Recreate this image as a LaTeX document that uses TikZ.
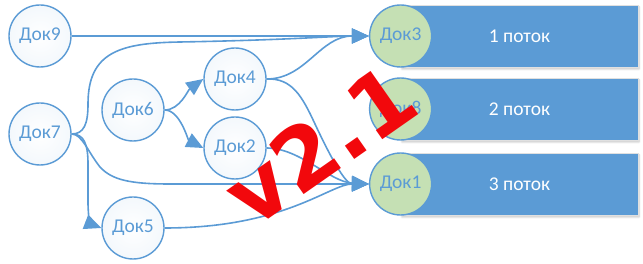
\documentclass[tikz,border=0pt]{standalone}
\usepackage{fontspec}
\setmainfont{Carlito}
\newfontfamily\stampfont{DejaVu Sans}
\usetikzlibrary{arrows.meta,shadows.blur}
\definecolor{flow}{HTML}{5B9BD5}
\definecolor{donegreen}{HTML}{C5E0B4}
\definecolor{stamp}{HTML}{F2080C}

\begin{document}
\begin{tikzpicture}[
    x=1pt, y=1pt,
    font=\fontsize{19.5}{22}\selectfont,
    doc/.style={circle, draw=flow, line width=1.4pt, inner color=white,
                outer color=flow!7, minimum size=62pt, inner sep=0pt,
                text=flow},
    donedoc/.style={doc, fill=donegreen, inner color=donegreen,
                    outer color=donegreen},
    bar/.style={rectangle, fill=flow, draw=black!12, line width=0.8pt,
                minimum width=237pt, minimum height=62pt, text=white,
                blur shadow={shadow xshift=1pt, shadow yshift=-2pt,
                             shadow opacity=25}},
    link/.style={draw=flow, line width=1.6pt,
                 -{Triangle[length=17pt, width=15pt]}}
]
\useasboundingbox (0,0) rectangle (643,264);

% Streams (bars behind their final documents)
\node[bar] (bar1) at (519.5,228) {1 поток};
\node[bar] (bar2) at (519.5,155) {2 поток};
\node[bar] (bar3) at (519.5,80) {3 поток};

% Final documents
\node[donedoc] (dok3) at (bar1.west) {Док3};
\node[donedoc] (dok8) at (bar2.west) {Док8};
\node[donedoc] (dok1) at (bar3.west) {Док1};

% Source documents
\node[doc] (dok9) at (40,228) {Док9};
\node[doc] (dok7) at (40,130) {Док7};
\node[doc] (dok6) at (133,154) {Док6};
\node[doc] (dok4) at (235,185) {Док4};
\node[doc] (dok2) at (235,116) {Док2};
\node[doc] (dok5) at (133,36) {Док5};

% Links into stream 1
\draw[link] (dok9.east) -- (dok3.west);
\draw[link] (dok7.east) .. controls (84,130) and (88,140) .. (88,160)
    .. controls (88,212) and (120,221) .. (180,222)
    .. controls (290,224) and (335,228) .. (dok3.west);
\draw[link] (dok4.east) .. controls (306,185) and (320,228) .. (dok3.west);

% Links inside the tree
\draw[link] (dok6.east) .. controls (180,154) and (188,174) .. (dok4.west);
\draw[link] (dok6.east) .. controls (180,154) and (188,124) .. (dok2.west);
\draw[link] (dok7.east) .. controls (84,130) and (88,120) .. (88,100)
    -- (88,62) .. controls (88,46) and (91,40) .. (dok5.west);

% Links into stream 3
\draw[link] (dok7.east) .. controls (82,130) and (88,112) .. (100,97)
    .. controls (112,84) and (130,80) .. (170,80) -- (dok1.west);
\draw[link] (dok4.east) .. controls (292,186) and (302,168) .. (315,140)
    .. controls (330,108) and (345,80) .. (dok1.west);
\draw[link] (dok2.east) .. controls (300,116) and (330,82) .. (dok1.west);
\draw[link] (dok5.east) .. controls (285,36) and (330,80) .. (dok1.west);

% Version stamp
\node[text=stamp, rotate=35, font=\stampfont\bfseries\fontsize{86}{86}\selectfont]
    (stamp) at (320,119) {v2.1};

\end{tikzpicture}
\end{document}
